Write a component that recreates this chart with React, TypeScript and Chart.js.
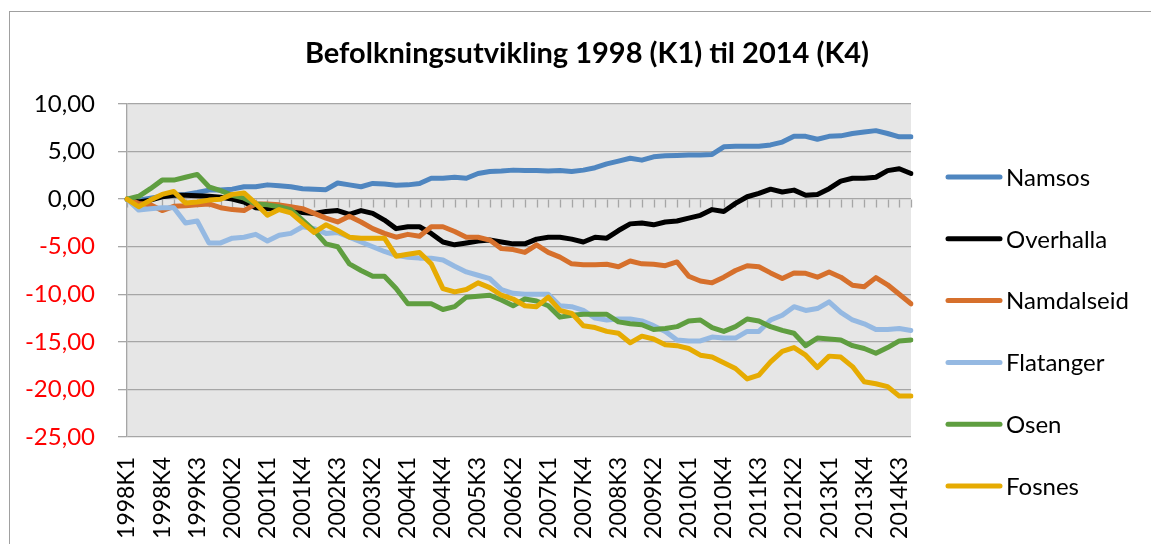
import React, { useEffect, useRef } from 'react';
import { Chart, registerables } from 'chart.js';

Chart.register(...registerables);

const YEARS = [1998, 1999, 2000, 2001, 2002, 2003, 2004, 2005, 2006, 2007, 2008, 2009, 2010, 2011, 2012, 2013, 2014];
const QUARTERS = ['K1', 'K2', 'K3', 'K4'];
const CATEGORIES: string[] = YEARS.flatMap((y) => QUARTERS.map((q) => `${y}${q}`));

const NAMSOS = [
  0, -0.1, 0.1, 0.3, 0.4, 0.5, 0.7, 0.95, 0.95, 1.05, 1.3, 1.3, 1.5, 1.4, 1.3, 1.1, 1.05, 1.0,
  1.7, 1.5, 1.3, 1.65, 1.6, 1.45, 1.5, 1.65, 2.2, 2.2, 2.3, 2.2, 2.7, 2.9, 2.95, 3.05, 3.0, 3.0,
  2.95, 3.0, 2.9, 3.05, 3.3, 3.7, 4.0, 4.3, 4.1, 4.45, 4.55, 4.6, 4.65, 4.65, 4.7, 5.5, 5.55,
  5.55, 5.55, 5.7, 6.0, 6.6, 6.6, 6.3, 6.6, 6.65, 6.9, 7.05, 7.2, 6.9, 6.55, 6.55,
];
const OVERHALLA = [
  0, -0.3, -0.1, 0.25, 0.4, 0.4, 0.35, 0.3, 0.2, 0.0, -0.3, -0.9, -1.0, -1.0, -1.1, -1.4, -1.5,
  -1.3, -1.2, -1.6, -1.2, -1.5, -2.2, -3.1, -2.9, -2.9, -3.6, -4.5, -4.8, -4.6, -4.4, -4.3, -4.5,
  -4.7, -4.7, -4.2, -4.0, -4.0, -4.2, -4.5, -4.0, -4.1, -3.3, -2.6, -2.5, -2.7, -2.4, -2.3, -2.0,
  -1.7, -1.1, -1.3, -0.45, 0.25, 0.6, 1.05, 0.75, 0.95, 0.4, 0.5, 1.1, 1.9, 2.2, 2.2, 2.3, 3.0,
  3.2, 2.7,
];
const NAMDALSEID = [
  0, -0.45, -0.6, -1.2, -0.75, -0.7, -0.6, -0.5, -0.9, -1.1, -1.2, -0.5, -0.5, -0.6, -0.8, -1.0,
  -1.5, -2.0, -2.4, -1.8, -2.4, -3.1, -3.6, -4.0, -3.7, -3.9, -2.9, -2.9, -3.4, -4.0, -4.0, -4.3,
  -5.2, -5.3, -5.6, -4.8, -5.6, -6.1, -6.8, -6.9, -6.9, -6.85, -7.1, -6.5, -6.8, -6.85, -7.0,
  -6.6, -8.1, -8.6, -8.8, -8.2, -7.5, -7.0, -7.1, -7.75, -8.35, -7.75, -7.8, -8.2, -7.65, -8.2,
  -9.05, -9.2, -8.25, -9.0, -10.0, -11.0,
];
const FLATANGER = [
  0, -1.15, -1.0, -0.9, -0.9, -2.5, -2.3, -4.6, -4.6, -4.1, -4.0, -3.7, -4.4, -3.8, -3.6, -2.9,
  -3.1, -3.6, -3.5, -4.0, -4.5, -5.0, -5.5, -5.9, -6.1, -6.2, -6.2, -6.4, -7.05, -7.65, -8.0,
  -8.35, -9.5, -9.9, -10.0, -10.0, -10.0, -11.2, -11.3, -11.7, -12.5, -12.7, -12.6, -12.6, -12.8,
  -13.3, -13.9, -14.8, -14.9, -14.9, -14.5, -14.6, -14.6, -13.9, -13.9, -12.7, -12.2, -11.3,
  -11.7, -11.5, -10.8, -11.9, -12.7, -13.1, -13.7, -13.7, -13.6, -13.8,
];
const OSEN = [
  0, 0.3, 1.1, 2.0, 2.0, 2.3, 2.6, 1.3, 0.9, 0.4, 0.1, -0.5, -0.6, -0.8, -1.1, -2.2, -3.3, -4.7,
  -5.0, -6.8, -7.5, -8.1, -8.1, -9.4, -11.0, -11.0, -11.0, -11.6, -11.3, -10.3, -10.2, -10.1,
  -10.6, -11.2, -10.5, -10.7, -11.2, -12.4, -12.2, -12.1, -12.1, -12.1, -12.9, -13.1, -13.2,
  -13.7, -13.6, -13.4, -12.8, -12.7, -13.5, -13.9, -13.4, -12.6, -12.8, -13.4, -13.8, -14.1,
  -15.4, -14.6, -14.7, -14.8, -15.4, -15.7, -16.2, -15.6, -14.9, -14.8,
];
const FOSNES = [
  0, -0.8, -0.1, 0.5, 0.8, -0.4, -0.3, -0.1, 0.0, 0.5, 0.65, -0.45, -1.7, -1.1, -1.45, -2.5,
  -3.5, -2.7, -3.3, -4.0, -4.1, -4.1, -4.1, -6.0, -5.8, -5.6, -6.8, -9.4, -9.75, -9.5, -8.8,
  -9.3, -10.1, -10.5, -11.2, -11.3, -10.3, -11.7, -12.0, -13.3, -13.5, -13.9, -14.1, -15.1,
  -14.4, -14.7, -15.3, -15.4, -15.7, -16.4, -16.6, -17.2, -17.8, -18.9, -18.5, -17.1, -16.0,
  -15.6, -16.4, -17.7, -16.5, -16.6, -17.6, -19.2, -19.4, -19.7, -20.7, -20.7,
];

const SERIES_NAMES = ['Namsos', 'Overhalla', 'Namdalseid', 'Flatanger', 'Osen', 'Fosnes'];
const SERIES_VALUES = [NAMSOS, OVERHALLA, NAMDALSEID, FLATANGER, OSEN, FOSNES];
const SERIES_COLORS = ['#4f86c0', '#000000', '#d6702c', '#95b9e2', '#5f9e40', '#e6ab02'];
const Y_TICKS = [10, 5, 0, -5, -10, -15, -20, -25];
const LABEL_EVERY = 3;
const TITLE = 'Befolkningsutvikling 1998 (K1) til 2014 (K4)';

const FONT = 'Lato';
const GRID = '#a6a6a6';

const decorPlugin = {
  id: 'decor',
  beforeDraw(chart: any) {
    const { ctx, width, height, chartArea } = chart;
    ctx.save();
    ctx.fillStyle = '#ffffff';
    ctx.fillRect(0, 0, width, height);
    ctx.strokeStyle = '#a0a0a0';
    ctx.lineWidth = 1;
    ctx.strokeRect(9.5, 11.5, width + 20, height + 20);
    ctx.fillStyle = '#e6e6e6';
    ctx.fillRect(chartArea.left, chartArea.top, chartArea.right - chartArea.left, chartArea.bottom - chartArea.top);
    ctx.restore();
  },
  beforeDatasetsDraw(chart: any) {
    const { ctx, scales } = chart;
    const x = scales.x;
    const y0 = Math.round(scales.y.getPixelForValue(0)) + 0.5;
    ctx.save();
    ctx.strokeStyle = GRID;
    ctx.lineWidth = 1.3;
    ctx.beginPath();
    CATEGORIES.forEach((_, i) => {
      const px = Math.round(x.getPixelForValue(i)) + 0.5;
      ctx.moveTo(px, y0);
      ctx.lineTo(px, y0 + 8);
    });
    ctx.stroke();
    ctx.restore();
  },
  afterDraw(chart: any) {
    const { ctx } = chart;
    ctx.save();
    ctx.fillStyle = '#000000';
    ctx.font = `bold 29px ${FONT}`;
    ctx.textAlign = 'center';
    ctx.textBaseline = 'middle';
    ctx.fillText(TITLE, 587, 54);
    ctx.font = `24px ${FONT}`;
    ctx.textAlign = 'left';
    SERIES_NAMES.forEach((name, i) => {
      const y = 177 + i * 61.8;
      ctx.strokeStyle = SERIES_COLORS[i];
      ctx.lineWidth = 5;
      ctx.lineCap = 'round';
      ctx.beginPath();
      ctx.moveTo(948, y);
      ctx.lineTo(1000, y);
      ctx.stroke();
      ctx.fillStyle = '#000000';
      ctx.fillText(name, 1006, y + 1);
    });
    ctx.restore();
  },
};

export default function App() {
  const canvasRef = useRef<HTMLCanvasElement | null>(null);

  useEffect(() => {
    document.body.style.margin = '0';
    const canvas = canvasRef.current;
    if (!canvas) return;
    const datasets = SERIES_NAMES.map((name, i) => ({
      label: name,
      data: SERIES_VALUES[i],
      borderColor: SERIES_COLORS[i],
      backgroundColor: SERIES_COLORS[i],
      borderWidth: 5,
      pointRadius: 0,
      tension: 0,
      borderJoinStyle: 'round' as const,
      borderCapStyle: 'round' as const,
      order: SERIES_NAMES.length - i,
    }));
    const chart = new Chart(canvas, {
      type: 'line',
      data: { labels: CATEGORIES, datasets },
      options: {
        animation: false,
        responsive: false,
        devicePixelRatio: 1,
        layout: { padding: { top: 104, right: 240, left: 0, bottom: 0 } },
        plugins: {
          legend: { display: false },
          title: { display: false },
          tooltip: { enabled: false },
        },
        scales: {
          x: {
            type: 'category',
            offset: false,
            grid: { display: false, drawTicks: false },
            border: { display: false },
            ticks: {
              autoSkip: false,
              maxRotation: 90,
              minRotation: 90,
              padding: 20,
              color: '#000000',
              font: { family: FONT, size: 23 },
              callback: (_v: any, i: number) => (i % LABEL_EVERY === 0 ? CATEGORIES[i] : ''),
            },
            afterFit: (s: any) => {
              s.height = 107;
            },
          },
          y: {
            min: -25,
            max: 10,
            afterBuildTicks: (s: any) => {
              s.ticks = Y_TICKS.map((v) => ({ value: v }));
            },
            grid: { color: GRID, lineWidth: 1.3, tickLength: 9, tickColor: GRID },
            border: { display: true, color: GRID, width: 1.3 },
            ticks: {
              padding: 23,
              font: { family: FONT, size: 24 },
              color: (ctx: any) => (ctx.tick && ctx.tick.value < 0 ? '#ff0000' : '#000000'),
              callback: (v: any) => Number(v).toFixed(2).replace('.', ','),
            },
            afterFit: (s: any) => {
              s.width = 127;
            },
          },
        },
      },
      plugins: [decorPlugin],
    });
    return () => chart.destroy();
  }, []);

  return (
    <div style={{ width: 1151, height: 544 }}>
      <canvas ref={canvasRef} width={1151} height={544} style={{ display: 'block' }} />
    </div>
  );
}
